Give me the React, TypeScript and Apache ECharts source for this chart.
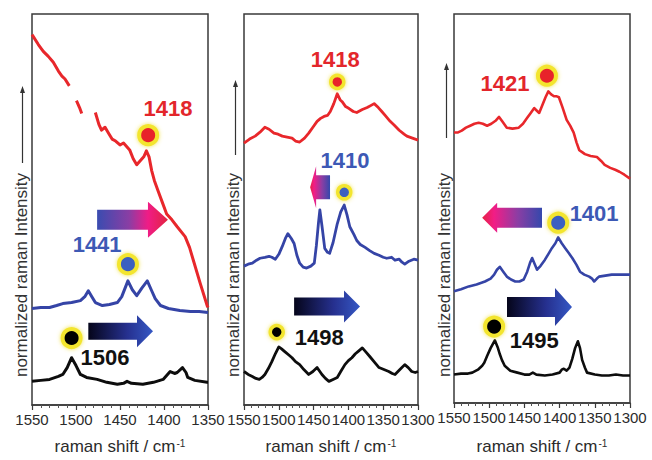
import React, { useEffect, useRef } from "react";
import * as echarts from "echarts";

// ---------- DATA (raman shift / cm-1, normalized intensity a.u.) ----------
const AXIS_MAX = 1550;
const AXIS_MIN = [1350, 1300, 1300];
const TICK_STEP = 50;

const P1_RED: (number | string)[][] = [
  [1550, 376], [1548.5, 374], [1542.8, 366], [1537.2, 359], [1531.5, 354], [1525.8, 348], [1520, 339], [1516, 334],
  [1512.5, 331], [1507.6, 324], [1503, "-"], [1499.5, 309], [1496, 302], [1493.5, 296], [1486, "-"],
  [1478, 297], [1474, 285], [1471, 279], [1467, 282], [1463, 276], [1459, 270], [1455, 268], [1450, 264], [1446, 266],
  [1443, 263], [1439, 259], [1435, 250], [1431, 244], [1427, 248], [1423, 252], [1420, 258], [1417, 252],
  [1414, 238], [1411, 228], [1407, 218], [1402, 206], [1397, 194], [1391, 188], [1385, 181], [1376, 171],
  [1371, 160], [1367, 148], [1359, 124], [1351, 101], [1350, 99],
];
const P1_BLUE: number[][] = [
  [1550, 98], [1540, 99], [1530, 99], [1522, 101], [1515, 103], [1505, 104], [1495, 106], [1490, 110], [1486, 116],
  [1482, 110], [1478, 104], [1470, 101], [1462, 102], [1453, 104], [1448, 110], [1441, 126], [1436, 117], [1431, 111],
  [1425, 119], [1419, 126], [1414, 116], [1410, 108], [1404, 101], [1395, 98], [1382, 96], [1370, 95], [1360, 95], [1350, 94],
];
const P1_BLACK: number[][] = [
  [1550, 24], [1540, 25], [1530, 26], [1520, 29], [1515, 31], [1510, 38], [1505, 48], [1500, 40], [1495, 31], [1488, 28],
  [1476, 26], [1465, 23], [1453, 21], [1446, 22], [1442, 24], [1437, 22], [1424, 21], [1412, 23], [1401, 26], [1396, 31],
  [1393, 34], [1388, 32], [1385, 33], [1379, 38], [1375, 33], [1373, 28], [1365, 25], [1351, 23], [1350, 23],
];

const P2_RED: number[][] = [
  [1550, 266], [1542, 270], [1534, 273], [1527, 277], [1520, 282], [1514, 280], [1507, 276], [1501, 275], [1495, 273],
  [1488, 272], [1481, 271], [1476, 268], [1470, 267], [1463, 271], [1457, 276], [1451, 282], [1445, 288], [1440, 291],
  [1435, 293], [1430, 294], [1426, 298], [1421, 306], [1416, 316], [1412, 310], [1409, 308], [1404, 303], [1399, 301],
  [1393, 298], [1388, 297], [1380, 300], [1373, 302], [1368, 304], [1363, 306], [1357, 302], [1352, 298], [1346, 293],
  [1340, 288], [1334, 284], [1327, 279], [1320, 275], [1316, 273], [1308, 271], [1300, 269],
];
const P2_BLUE: number[][] = [
  [1550, 141], [1544, 143], [1538, 144], [1532, 147], [1527, 149], [1520, 150], [1514, 151], [1510, 150], [1505, 148],
  [1500, 153], [1495, 161], [1490, 170], [1487, 174], [1482, 169], [1478, 164], [1474, 152], [1470, 144], [1465, 140],
  [1460, 139], [1454, 141], [1449, 144], [1446, 162], [1443, 185], [1441, 198], [1438, 182], [1434, 159], [1430, 155],
  [1427, 154], [1422, 165], [1416, 184], [1411, 196], [1406, 203], [1402, 193], [1398, 181], [1392, 173], [1388, 167],
  [1383, 163], [1376, 160], [1370, 157], [1363, 154], [1356, 152], [1350, 150], [1345, 149], [1338, 150], [1333, 147],
  [1327, 148], [1323, 145], [1319, 143], [1313, 146], [1306, 148], [1300, 147],
];
const P2_BLACK: number[][] = [
  [1550, 34], [1544, 31], [1538, 29], [1533, 27], [1528, 26], [1524, 28], [1520, 31], [1515, 37], [1510, 44], [1505, 52],
  [1500, 59], [1496, 57], [1491, 54], [1486, 51], [1481, 48], [1476, 44], [1470, 41], [1464, 36], [1457, 31], [1451, 34],
  [1445, 38], [1441, 34], [1438, 31], [1433, 27], [1428, 24], [1422, 26], [1416, 28], [1411, 34], [1405, 41], [1400, 45],
  [1395, 48], [1390, 52], [1385, 55], [1380, 58], [1375, 54], [1369, 49], [1362, 43], [1356, 38], [1349, 36], [1342, 34],
  [1337, 32], [1333, 31], [1326, 36], [1319, 41], [1314, 38], [1309, 34], [1304, 33], [1300, 34],
];

const P3_RED: number[][] = [
  [1550, 276], [1545, 276], [1539, 278], [1533, 281], [1527, 283], [1521, 285], [1515, 286], [1509, 285], [1503, 283],
  [1497, 285], [1491, 288], [1486, 292], [1481, 287], [1475, 281], [1467, 280], [1458, 281], [1452, 285], [1446, 291],
  [1441, 296], [1436, 301], [1432, 298], [1429, 296], [1424, 305], [1420, 312], [1416, 318], [1412, 315], [1408, 313],
  [1404, 313], [1401, 312], [1396, 302], [1390, 289], [1385, 283], [1380, 276], [1376, 266], [1372, 258], [1368, 256],
  [1364, 254], [1356, 252], [1347, 251], [1341, 247], [1336, 243], [1328, 240], [1321, 238], [1315, 236], [1308, 233], [1300, 229],
];
const P3_BLUE: number[][] = [
  [1550, 114], [1540, 116], [1529, 119], [1518, 121], [1506, 124], [1498, 127], [1493, 131], [1489, 136], [1485, 139],
  [1480, 134], [1475, 129], [1469, 126], [1463, 124], [1457, 124], [1451, 126], [1446, 134], [1442, 143], [1439, 148],
  [1435, 141], [1432, 136], [1427, 140], [1421, 146], [1416, 152], [1411, 158], [1406, 163], [1402, 169], [1397, 163],
  [1392, 158], [1387, 153], [1382, 148], [1376, 141], [1371, 134], [1365, 131], [1358, 129], [1354, 127], [1351, 124],
  [1347, 127], [1344, 129], [1335, 130], [1326, 131], [1315, 131], [1302, 131], [1300, 131],
];
const P3_BLACK: number[][] = [
  [1550, 29], [1540, 30], [1530, 30], [1524, 31], [1516, 34], [1510, 38], [1507, 41], [1503, 48], [1498, 56], [1492, 64],
  [1488, 57], [1485, 50], [1482, 44], [1478, 38], [1470, 33], [1460, 31], [1450, 29], [1443, 29], [1438, 31], [1433, 29],
  [1421, 28], [1410, 29], [1400, 31], [1397, 34], [1394, 35], [1390, 33], [1386, 36], [1382, 45], [1378, 56], [1374, 63],
  [1371, 56], [1368, 44], [1364, 36], [1361, 31], [1350, 29], [1340, 28], [1330, 28], [1320, 29], [1310, 28], [1300, 28],
];

// peak markers: [shift, intensity, kind]
const P1_DOTS: (number | string)[][] = [[1418, 274, "red"], [1441, 143, "blue"], [1505, 68, "black"]];
const P2_DOTS: (number | string)[][] = [[1416, 328, "red"], [1406, 216, "blue"], [1503, 74, "black"]];
const P3_DOTS: (number | string)[][] = [[1418, 334, "red"], [1402, 184, "blue"], [1493, 78, "black"]];

// peak labels: [shift, intensity, text, kind]
const P1_LABELS: (number | string)[][] = [[1395.5, 301, "1418", "red"], [1476, 163, "1441", "blue"], [1467, 48, "1506", "black"]];
const P2_LABELS: (number | string)[][] = [[1419, 351, "1418", "red"], [1405, 248, "1410", "blue"], [1442, 69, "1498", "black"]];
const P3_LABELS: (number | string)[][] = [[1477.6, 326, "1421", "red"], [1351, 193, "1401", "blue"], [1436, 64, "1495", "black"]];

// shift arrows: [tail shift, tip shift, intensity, style index]
const P1_ARROWS: number[][] = [[1476, 1395.5, 188, 0], [1486, 1412.5, 75, 1]];
const P2_ARROWS: number[][] = [[1426.4, 1455, 221, 2], [1478, 1383.3, 100, 3]];
const P3_ARROWS: number[][] = [[1425, 1510, 189, 4], [1474.7, 1382.4, 98, 5]];

// ---------- STYLES ----------
const FONT = '"Liberation Sans", Arial, Helvetica, sans-serif';
const LINE_COLORS: Record<string, string> = { red: "#e8272b", blue: "#3544a6", black: "#0d0d0d" };
const DOT_COLORS: Record<string, string> = { red: "#e8232a", blue: "#3a5ec0", black: "#000000" };
const TEXT_COLORS: Record<string, string> = { red: "#e3262b", blue: "#3d59b5", black: "#111111" };
const PANEL_LAYOUT = [
  { left: 32, width: 176, dot: 18, ring: 4, lw: 3 },
  { left: 244, width: 174, dot: 13, ring: 3.5, lw: 2.8 },
  { left: 454, width: 176, dot: 18, ring: 4, lw: 2.6 },
];
const GRID_TOP = 14;
const GRID_H = 397;
const Y_MAX = 397;

const BLUE_PINK = [
  { offset: 0, color: "#3a4cb0" }, { offset: 0.45, color: "#8a3ea4" },
  { offset: 0.72, color: "#f01c86" }, { offset: 1, color: "#e2243f" },
];
const PINK_BLUE = [
  { offset: 0, color: "#e52346" }, { offset: 0.2, color: "#f21d86" },
  { offset: 0.6, color: "#8a3ea4" }, { offset: 1, color: "#3448ac" },
];
const BLACK_BLUE = [
  { offset: 0, color: "#05051a" }, { offset: 0.6, color: "#26308f" }, { offset: 1, color: "#3558c4" },
];
const ARROW_STYLES = [
  { body: 10, head: 18, headLen: 20, stops: BLUE_PINK },
  { body: 8.5, head: 16, headLen: 16, stops: BLACK_BLUE },
  { body: 12, head: 21, headLen: 6, stops: PINK_BLUE },
  { body: 9, head: 16, headLen: 16, stops: BLACK_BLUE },
  { body: 10, head: 15, headLen: 15, stops: PINK_BLUE },
  { body: 10, head: 19, headLen: 17, stops: BLACK_BLUE },
];

const Y_LABELS = [
  { tx: 21, ty: 275, lx: 22.5, ly1: 163, ly2: 86 },
  { tx: 233, ty: 275, lx: 235.5, ly1: 155, ly2: 80 },
  { tx: 444, ty: 275, lx: 446.5, ly1: 138, ly2: 63 },
];

const PANEL_DATA = [
  { red: P1_RED, blue: P1_BLUE, black: P1_BLACK, dots: P1_DOTS, labels: P1_LABELS, arrows: P1_ARROWS },
  { red: P2_RED, blue: P2_BLUE, black: P2_BLACK, dots: P2_DOTS, labels: P2_LABELS, arrows: P2_ARROWS },
  { red: P3_RED, blue: P3_BLUE, black: P3_BLACK, dots: P3_DOTS, labels: P3_LABELS, arrows: P3_ARROWS },
];

function buildOption() {
  const grid: any[] = [];
  const xAxis: any[] = [];
  const yAxis: any[] = [];
  const series: any[] = [];
  const graphic: any[] = [];

  PANEL_LAYOUT.forEach((p, i) => {
    grid.push({
      left: p.left, top: GRID_TOP, width: p.width, height: GRID_H,
      show: true, borderColor: "#3a3a3a", borderWidth: 1.5, backgroundColor: "transparent",
    });
    xAxis.push({
      type: "value", gridIndex: i, inverse: true, min: AXIS_MIN[i], max: AXIS_MAX, interval: TICK_STEP,
      name: "{a|raman shift / cm}{b|-1}", nameLocation: "middle", nameGap: i === 2 ? 35 : 33,
      nameTextStyle: {
        rich: {
          a: { fontSize: 17, fontFamily: FONT, color: "#2b2b2b" },
          b: { fontSize: 10, fontFamily: FONT, color: "#2b2b2b", verticalAlign: "top", padding: [0, 0, 6, 1] },
        },
      },
      axisLine: { show: true, lineStyle: { color: "#3a3a3a", width: 1.5 } },
      axisTick: { show: true, inside: false, length: 5, lineStyle: { color: "#3a3a3a", width: 1.2 } },
      minorTick: { show: true, splitNumber: 5, length: 3, lineStyle: { color: "#555", width: 1 } },
      axisLabel: {
        show: true, fontSize: 15, fontFamily: FONT, color: "#2b2b2b", margin: 7,
        showMinLabel: true, showMaxLabel: true, hideOverlap: false, interval: 0,
        formatter: (v: number) => String(Math.round(v)),
      },
      splitLine: { show: false },
    });
    yAxis.push({
      type: "value", gridIndex: i, min: 0, max: Y_MAX,
      axisLine: { show: false }, axisTick: { show: false }, axisLabel: { show: false }, splitLine: { show: false },
    });

    const d = PANEL_DATA[i];
    (["red", "blue", "black"] as const).forEach((k) => {
      series.push({
        type: "line", xAxisIndex: i, yAxisIndex: i, data: d[k], showSymbol: false, symbol: "none",
        connectNulls: false, lineStyle: { color: LINE_COLORS[k], width: p.lw, join: "round" }, z: 2,
      });
    });

    series.push({
      type: "custom", xAxisIndex: i, yAxisIndex: i, data: d.arrows, z: 3, clip: false,
      encode: { x: [0, 1], y: 2 },
      renderItem: (_params: any, api: any) => {
        const tail = api.coord([api.value(0), api.value(2)]);
        const tip = api.coord([api.value(1), api.value(2)]);
        const st = ARROW_STYLES[api.value(3)];
        const dir = tip[0] > tail[0] ? 1 : -1;
        const cy = tail[1];
        const hb = tip[0] - dir * st.headLen;
        const pts = [
          [tail[0], cy - st.body], [hb, cy - st.body], [hb, cy - st.head], [tip[0], cy],
          [hb, cy + st.head], [hb, cy + st.body], [tail[0], cy + st.body],
        ];
        return {
          type: "polygon",
          shape: { points: pts },
          style: { fill: new echarts.graphic.LinearGradient(0, 0, 1, 0, st.stops), stroke: "none" },
        };
      },
    });

    series.push({
      type: "scatter", xAxisIndex: i, yAxisIndex: i, z: 4,
      itemStyle: { opacity: 1 },
      data: d.dots.map((r) => ({
        value: [r[0], r[1]],
        itemStyle: {
          opacity: 1,
          color: DOT_COLORS[r[2] as string], borderColor: "#f3e52e", borderWidth: p.ring,
          shadowBlur: 4, shadowColor: "rgba(240,225,60,0.9)",
        },
      })),
      symbol: "circle", symbolSize: p.dot,
    });

    series.push({
      type: "scatter", xAxisIndex: i, yAxisIndex: i, z: 5, symbolSize: 0,
      itemStyle: { opacity: 1 },
      data: d.labels.map((r) => ({
        value: [r[0], r[1]],
        label: {
          show: true, position: "inside", formatter: String(r[2]), fontSize: 22, fontWeight: "bold",
          fontFamily: FONT, color: TEXT_COLORS[r[3] as string], opacity: 1,
        },
      })),
    });

    const yl = Y_LABELS[i];
    graphic.push({
      type: "text", x: yl.tx, y: yl.ty, rotation: Math.PI / 2,
      style: {
        text: "normalized raman Intensity", font: `17px ${FONT}`, fill: "#333",
        textAlign: "center", textVerticalAlign: "middle", align: "center", verticalAlign: "middle",
      },
    });
    graphic.push({
      type: "line", shape: { x1: yl.lx, y1: yl.ly1, x2: yl.lx, y2: yl.ly2 + 6 },
      style: { stroke: "#333", lineWidth: 1.2 },
    });
    graphic.push({
      type: "polygon", shape: { points: [[yl.lx, yl.ly2], [yl.lx - 2.5, yl.ly2 + 7], [yl.lx + 2.5, yl.ly2 + 7]] },
      style: { fill: "#333" },
    });
  });

  return {
    animation: false,
    backgroundColor: "#ffffff",
    grid, xAxis, yAxis, series, graphic,
  };
}

export default function App() {
  const ref = useRef<HTMLDivElement>(null);
  useEffect(() => {
    if (!ref.current) return;
    const chart = echarts.init(ref.current, undefined, { renderer: "svg" });
    chart.setOption(buildOption() as any);
    return () => chart.dispose();
  }, []);
  return (
    <div
      ref={ref}
      style={{ position: "fixed", left: 0, top: 0, width: 652, height: 460, background: "#fff" }}
    />
  );
}
